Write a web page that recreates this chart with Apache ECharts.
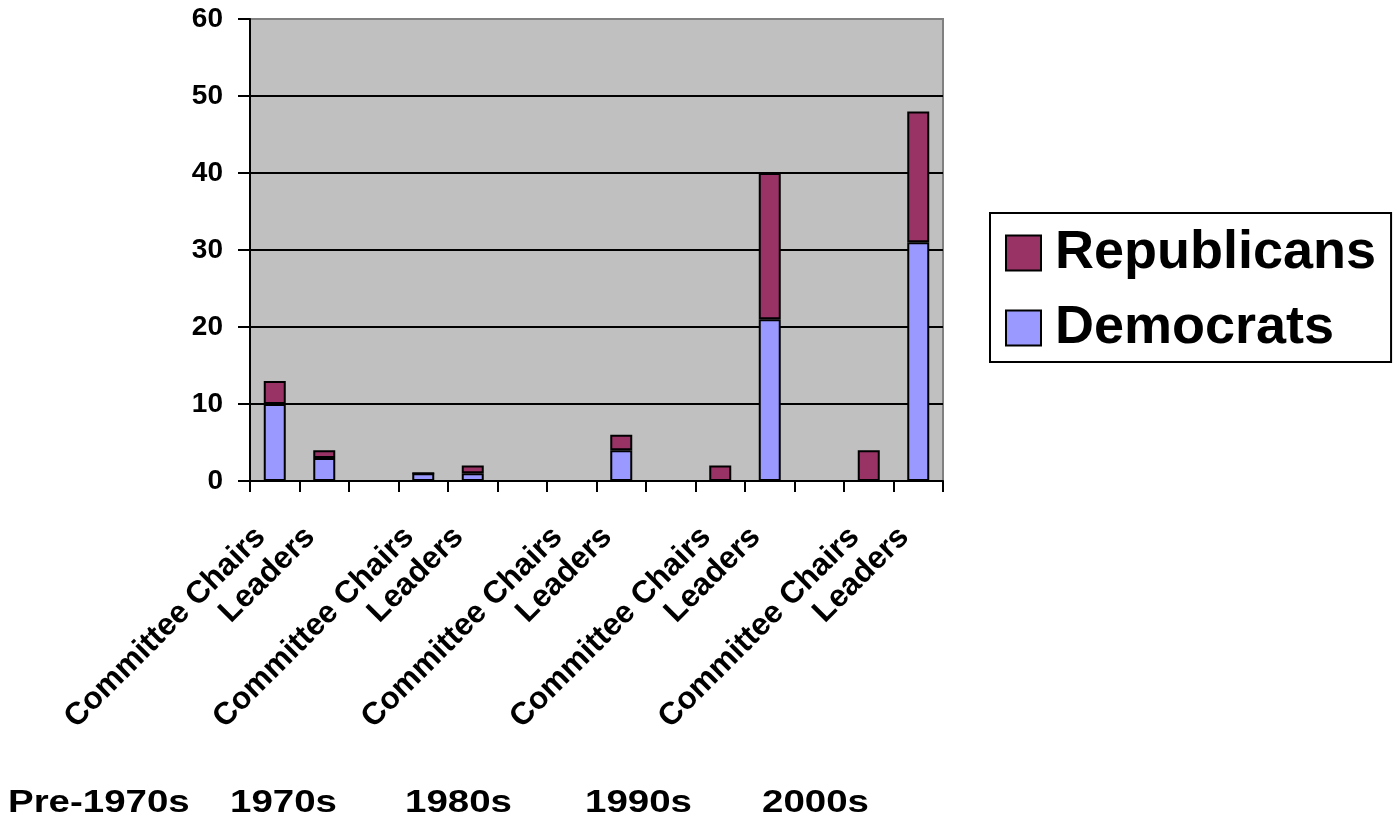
<!DOCTYPE html>
<html>
<head>
<meta charset="utf-8">
<script src="https://cdn.jsdelivr.net/npm/echarts@6/dist/echarts.min.js"></script>
<style>
  html, body { margin: 0; padding: 0; background: #fff; }
  #chart { width: 1399px; height: 827px; }
</style>
</head>
<body>
<div id="chart"></div>
<script>
// Congressional leadership positions by decade, split by party
const decades = ['Pre-1970s', '1970s', '1980s', '1990s', '2000s'];
const roles = ['Committee Chairs', 'Leaders'];
// one value per decade/role pair, in decade order
const democrats = [10, 3, 1, 1, 0, 4, 0, 21, 0, 31];
const republicans = [3, 1, 0, 1, 0, 2, 2, 19, 4, 17];
const yTicks = [0, 10, 20, 30, 40, 50, 60];

// Category slots: each decade's roles, with an empty spacer slot between decades
const categories = [];
const demSlots = [];
const repSlots = [];
decades.forEach(function (d, di) {
  if (di > 0) {
    categories.push('');
    demSlots.push(null);
    repSlots.push(null);
  }
  roles.forEach(function (r, ri) {
    const k = di * roles.length + ri;
    categories.push(r);
    demSlots.push(democrats[k]);
    repSlots.push(republicans[k]);
  });
});

// Left edges of the decade captions under the chart
const decadeX = [8, 230, 405, 585, 762];

const FONT = '"Liberation Sans", Arial, Helvetica, sans-serif';
const chart = echarts.init(document.getElementById('chart'), null, { renderer: 'canvas' });

// top grid line is drawn grey like the plot-area frame, the rest black
const splitColors = yTicks.map(function (v, i) {
  return i === yTicks.length - 1 ? '#808080' : '#000000';
});

const option = {
  animation: false,
  backgroundColor: '#ffffff',
  grid: {
    left: 250, top: 19, right: 456, bottom: 346,
    show: true,
    backgroundColor: '#C0C0C0',
    borderColor: '#808080',
    borderWidth: 2
  },
  legend: {
    data: ['Republicans', 'Democrats'],
    orient: 'vertical',
    left: 990,
    top: 213,
    padding: [10, 15, 4, 15],
    itemGap: 15,
    itemWidth: 35,
    itemHeight: 35,
    itemTextGap: 15,
    backgroundColor: '#ffffff',
    borderColor: '#000000',
    borderWidth: 2,
    borderRadius: 0,
    icon: 'rect',
    textStyle: {
      fontFamily: FONT,
      fontWeight: 'bold',
      fontSize: 54,
      lineHeight: 60,
      padding: [0, 0, 0, 9],
      color: '#000000'
    }
  },
  xAxis: {
    type: 'category',
    data: categories,
    boundaryGap: true,
    axisLine: { show: true, lineStyle: { color: '#000000', width: 2 } },
    axisTick: {
      show: true, interval: 0, inside: false, length: 11,
      lineStyle: { color: '#000000', width: 2 }
    },
    axisLabel: {
      interval: 0,
      rotate: 45,
      margin: 37,
      padding: [0, 20, 0, 0],
      fontFamily: FONT,
      fontWeight: 'bold',
      fontSize: 31.5,
      color: '#000000'
    },
    splitLine: { show: false }
  },
  yAxis: {
    type: 'value',
    min: 0,
    max: 60,
    interval: 10,
    axisLine: { show: true, lineStyle: { color: '#000000', width: 2 } },
    axisTick: {
      show: true, inside: false, length: 12,
      lineStyle: { color: '#000000', width: 2 }
    },
    axisLabel: {
      margin: 27,
      fontFamily: FONT,
      fontWeight: 'bold',
      fontSize: 28,
      color: '#000000'
    },
    splitLine: { show: true, lineStyle: { color: splitColors, width: 2 } }
  },
  series: [
    {
      name: 'Democrats',
      type: 'bar',
      stack: 'party',
      data: demSlots,
      barWidth: 22,
      itemStyle: { color: '#9999FF', borderColor: '#000000', borderWidth: 2 }
    },
    {
      name: 'Republicans',
      type: 'bar',
      stack: 'party',
      data: repSlots,
      barWidth: 22,
      itemStyle: { color: '#993366', borderColor: '#000000', borderWidth: 2 }
    }
  ],
  graphic: decades.map(function (d, i) {
    return {
      type: 'text',
      left: decadeX[i],
      top: 788,
      scaleX: 1.24,
      style: {
        text: d,
        font: 'bold 31px ' + FONT,
        fill: '#000000'
      }
    };
  })
};

chart.setOption(option);
</script>
</body>
</html>
